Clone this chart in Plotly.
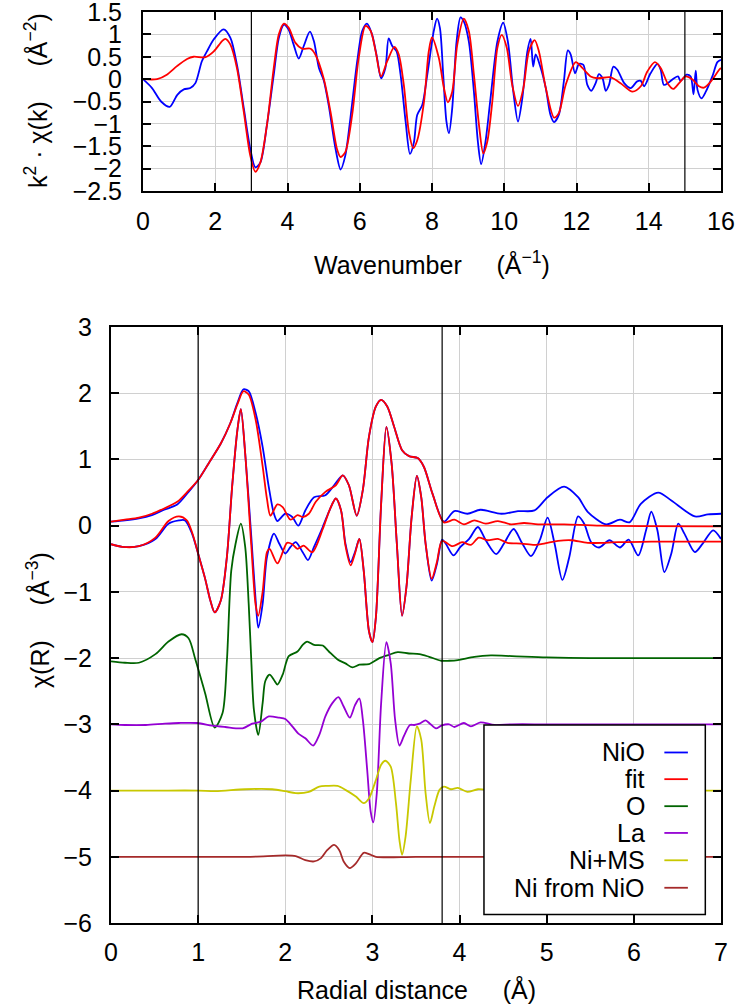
import plotly.graph_objects as go

# ---------------- top panel : k^2 * chi(k) ----------------
k_nio = [0, 0.25, 0.5, 0.74, 0.95, 1.13, 1.31, 1.45, 1.63, 1.77, 1.96, 2.23, 2.42, 2.6, 2.79, 2.97,
         3.11, 3.25, 3.43, 3.62, 3.76, 3.9, 4.03, 4.17, 4.31, 4.45, 4.62, 4.73, 4.87, 5.0, 5.14, 5.33,
         5.47, 5.6, 5.74, 5.93, 6.07, 6.2, 6.34, 6.48, 6.59, 6.71, 6.8, 6.9, 7.02, 7.13, 7.27, 7.39,
         7.5, 7.59, 7.73, 7.87, 8.05, 8.14, 8.22, 8.31, 8.4, 8.47, 8.56, 8.68, 8.79, 8.88, 9.02, 9.16,
         9.27, 9.36, 9.48, 9.62, 9.81, 9.97, 10.1, 10.25, 10.38, 10.5, 10.64, 10.73, 10.8, 10.87,
         11.01, 11.15, 11.28, 11.38, 11.51, 11.65, 11.76, 11.84, 11.96, 12.07, 12.19, 12.3, 12.41,
         12.53, 12.62, 12.72, 12.81, 12.9, 13.02, 13.13, 13.32, 13.5, 13.68, 13.78, 13.87, 14.05,
         14.24, 14.33, 14.42, 14.56, 14.7, 14.81, 14.88, 15.05, 15.16, 15.24, 15.3, 15.35, 15.46,
         15.58, 15.76, 15.9, 16.0]
chik_nio = [0, -0.2, -0.5, -0.62, -0.35, -0.23, -0.2, -0.09, 0.40, 0.62, 0.89, 1.11, 0.92, 0.32, -0.65,
            -1.56, -1.97, -1.86, -1.03, 0.1, 0.92, 1.22, 1.11, 0.77, 0.46, 0.74, 1.06, 0.85, 0.25, -0.02,
            -0.58, -1.56, -2.02, -1.71, -0.88, 0.4, 1.08, 1.24, 1.0, 0.47, 0.02, 0.25, 0.91, 0.74, 0.62,
            0.1, -0.95, -1.67, -1.41, -0.8, -0.58, 0.1, 1.08, 1.35, 1.14, 0.1, -0.95, -1.21, -0.65, 0.84,
            1.38, 1.29, 0.84, -0.28, -1.4, -1.9, -1.4, -0.43, 0.84, 1.26, 0.84, -0.28, -0.95, -0.43, 0.62,
            0.9, 0.28, 0.55, 0.25, -0.2, -0.8, -0.96, -0.8, -0.05, 0.64, 0.55, 0.13, 0.34, 0.32, -0.13,
            -0.26, -0.09, 0.11, 0.02, -0.26, -0.13, 0.28, 0.21, -0.09, -0.2, -0.05, -0.04, -0.16, 0.13,
            0.34, 0.21, -0.13, -0.07, 0.02, 0.06, -0.04, 0.1, 0.06, -0.34, 0.19, -0.24, -0.43, -0.28,
            0.06, 0.38, 0.43]
k_fit = [0, 0.39, 0.66, 0.94, 1.22, 1.4, 1.73, 1.96, 2.19, 2.28, 2.42, 2.6, 2.79, 2.97, 3.11, 3.25,
         3.43, 3.62, 3.76, 3.9, 4.03, 4.22, 4.4, 4.64, 4.77, 5.0, 5.19, 5.37, 5.47, 5.6, 5.79, 5.97,
         6.16, 6.3, 6.44, 6.59, 6.76, 6.96, 7.08, 7.22, 7.36, 7.48, 7.59, 7.78, 7.91, 8.0, 8.19, 8.33,
         8.44, 8.56, 8.7, 8.88, 9.02, 9.16, 9.3, 9.42, 9.53, 9.67, 9.81, 9.93, 10.07, 10.22, 10.38,
         10.53, 10.68, 10.84, 10.96, 11.15, 11.38, 11.51, 11.7, 11.98, 12.16, 12.39, 12.58, 12.95,
         13.22, 13.55, 13.78, 13.96, 14.17, 14.33, 14.52, 14.68, 14.84, 15.02, 15.21, 15.39, 15.53,
         15.72, 15.95, 16.0]
chik_fit = [0, 0, 0.1, 0.29, 0.45, 0.5, 0.49, 0.62, 0.85, 0.9, 0.77, 0.25, -0.73, -1.71, -2.07, -1.86,
            -1.03, 0.25, 1.0, 1.24, 1.15, 0.81, 0.68, 0.68, 0.55, 0.02, -0.73, -1.56, -1.74, -1.63, -0.8,
            0.47, 1.19, 1.08, 0.62, 0.06, 0.4, 0.72, 0.55, -0.13, -1.18, -1.54, -1.37, -0.5, 0.62, 0.93,
            0.47, -0.2, -0.52, -0.28, 0.77, 1.35, 1.07, 0.1, -1.02, -1.66, -1.4, -0.5, 0.7, 0.99, 0.7,
            -0.13, -0.6, -0.2, 0.62, 0.87, 0.62, -0.2, -0.86, -0.76, -0.13, 0.38, 0.25, 0.06, 0.02, 0.04,
            -0.09, -0.28, -0.16, 0.17, 0.38, 0.25, -0.09, -0.22, -0.09, 0.06, -0.01, -0.16, -0.19, -0.05,
            0.21, 0.25]
k_window = [3, 15]

# ---------------- bottom panel : chi(R) ----------------
r_nio_mag = [0, 0.16, 0.32, 0.47, 0.61, 0.76, 0.89, 1.0, 1.12, 1.26, 1.37, 1.45, 1.52, 1.58, 1.66, 1.74,
             1.81, 1.87, 1.91, 2.0, 2.08, 2.15, 2.23, 2.33, 2.46, 2.56, 2.66, 2.73, 2.82, 2.89, 2.96, 3.04,
             3.1, 3.17, 3.25, 3.34, 3.42, 3.52, 3.59, 3.69, 3.82, 3.94, 4.09, 4.24, 4.48, 4.67, 4.86, 5.01,
             5.2, 5.36, 5.47, 5.68, 5.84, 5.95, 6.08, 6.28, 6.43, 6.7, 6.85, 7.0]
chir_nio_mag = [0.06, 0.08, 0.11, 0.16, 0.24, 0.32, 0.51, 0.69, 0.94, 1.24, 1.55, 1.85, 2.06, 2.03, 1.7,
                1.19, 0.59, 0.18, 0.07, 0.18, 0.13, 0.0, 0.23, 0.43, 0.46, 0.61, 0.76, 0.61, 0.15, 0.54,
                1.34, 1.8, 1.9, 1.8, 1.49, 1.14, 1.05, 1.02, 0.89, 0.48, 0.06, 0.22, 0.18, 0.24, 0.18, 0.22,
                0.23, 0.43, 0.59, 0.43, 0.21, 0.02, 0.09, 0.05, 0.33, 0.5, 0.38, 0.14, 0.17, 0.18]
r_fit_mag = [0, 0.16, 0.32, 0.47, 0.61, 0.76, 0.89, 1.0, 1.12, 1.26, 1.37, 1.45, 1.52, 1.58, 1.66, 1.74,
             1.79, 1.83, 1.91, 1.97, 2.06, 2.14, 2.2, 2.27, 2.35, 2.46, 2.58, 2.66, 2.73, 2.82, 2.89, 2.96,
             3.04, 3.1, 3.17, 3.25, 3.34, 3.42, 3.52, 3.59, 3.69, 3.82, 3.94, 4.05, 4.17, 4.3, 4.44, 4.59,
             4.74, 4.9, 5.2, 5.62, 7.0]
chir_fit_mag = [0.06, 0.09, 0.12, 0.18, 0.26, 0.36, 0.53, 0.69, 0.94, 1.24, 1.55, 1.83, 2.03, 1.98, 1.6,
                0.9, 0.4, 0.15, 0.32, 0.28, 0.09, 0.16, 0.13, 0.18, 0.36, 0.51, 0.61, 0.76, 0.61, 0.15,
                0.54, 1.34, 1.8, 1.9, 1.8, 1.49, 1.14, 1.05, 1.02, 0.89, 0.48, 0.05, 0.09, 0.02, 0.08, 0.03,
                0.07, 0.02, 0.04, 0.02, 0.02, 0.0, -0.01]
r_nio_re = [0, 0.13, 0.32, 0.51, 0.66, 0.78, 0.85, 0.93, 1.01, 1.08, 1.14, 1.19, 1.26, 1.33, 1.39, 1.45,
            1.49, 1.54, 1.61, 1.66, 1.69, 1.74, 1.79, 1.87, 1.93, 2.0, 2.06, 2.12, 2.2, 2.26, 2.33, 2.43,
            2.51, 2.58, 2.64, 2.69, 2.75, 2.8, 2.85, 2.9, 2.96, 3.0, 3.04, 3.1, 3.16, 3.22, 3.28, 3.34,
            3.39, 3.45, 3.51, 3.56, 3.61, 3.68, 3.74, 3.8, 3.84, 3.93, 4.01, 4.11, 4.21, 4.3, 4.42, 4.51,
            4.62, 4.72, 4.82, 4.92, 5.01, 5.09, 5.18, 5.26, 5.36, 5.43, 5.51, 5.6, 5.72, 5.84, 5.94, 6.05,
            6.14, 6.2, 6.27, 6.35, 6.43, 6.51, 6.58, 6.7, 6.79, 6.91, 7.0]
chir_nio_re = [-0.28, -0.32, -0.31, -0.2, 0.03, 0.08, 0.08, -0.12, -0.47, -0.8, -1.13, -1.31, -1.13,
               -0.47, 0.59, 1.44, 1.76, 1.09, -0.17, -1.13, -1.54, -1.18, -0.47, -0.12, -0.27, -0.42,
               -0.32, -0.25, -0.4, -0.52, -0.32, -0.02, 0.24, 0.41, 0.23, -0.27, -0.55, -0.4, -0.2, -0.68,
               -1.59, -1.76, -1.38, 0.33, 1.49, 0.94, -0.27, -1.36, -0.93, 0.13, 0.75, 0.43, -0.27, -0.83,
               -0.58, -0.21, -0.27, -0.45, -0.32, -0.2, -0.02, -0.22, -0.43, -0.27, -0.05, -0.27, -0.46,
               -0.22, 0.12, -0.27, -0.82, -0.47, 0.14, 0.03, -0.25, -0.33, -0.22, -0.33, -0.21, -0.45,
               -0.07, 0.21, -0.07, -0.7, -0.42, 0.03, -0.12, -0.4, -0.27, -0.07, -0.2]
r_fit_re = [0, 0.13, 0.32, 0.51, 0.66, 0.78, 0.87, 0.93, 1.01, 1.08, 1.14, 1.19, 1.26, 1.33, 1.39, 1.45,
            1.49, 1.54, 1.61, 1.66, 1.69, 1.74, 1.79, 1.82, 1.91, 2.02, 2.08, 2.14, 2.21, 2.31, 2.43,
            2.51, 2.58, 2.64, 2.69, 2.75, 2.8, 2.85, 2.9, 2.96, 3.0, 3.04, 3.1, 3.16, 3.22, 3.28, 3.34,
            3.39, 3.45, 3.51, 3.56, 3.61, 3.68, 3.74, 3.8, 3.92, 4.03, 4.13, 4.22, 4.32, 4.44, 4.55, 4.71,
            4.86, 4.97, 5.13, 5.28, 5.47, 5.82, 6.2, 7.0]
chir_fit_re = [-0.28, -0.32, -0.31, -0.18, 0.07, 0.14, 0.08, -0.1, -0.47, -0.8, -1.13, -1.31, -1.13,
               -0.47, 0.59, 1.44, 1.76, 1.09, -0.3, -1.2, -1.36, -1.0, -0.4, -0.35, -0.57, -0.26, -0.28,
               -0.35, -0.3, -0.4, -0.05, 0.24, 0.41, 0.23, -0.3, -0.6, -0.42, -0.2, -0.68, -1.59, -1.76,
               -1.38, 0.33, 1.49, 0.94, -0.27, -1.36, -0.93, 0.13, 0.75, 0.43, -0.27, -0.8, -0.55, -0.23,
               -0.31, -0.25, -0.29, -0.18, -0.22, -0.2, -0.26, -0.27, -0.29, -0.27, -0.23, -0.22, -0.26,
               -0.25, -0.24, -0.24]
r_o = [0, 0.16, 0.32, 0.51, 0.66, 0.81, 0.89, 0.97, 1.08, 1.19, 1.28, 1.33, 1.38, 1.43, 1.49, 1.54, 1.58,
       1.61, 1.64, 1.69, 1.74, 1.77, 1.82, 1.87, 1.91, 1.97, 2.04, 2.14, 2.2, 2.25, 2.33, 2.43, 2.5, 2.6,
       2.69, 2.77, 2.85, 2.96, 3.08, 3.19, 3.29, 3.42, 3.54, 3.65, 3.79, 3.88, 3.98, 4.17, 4.36, 4.6, 5.0,
       5.5, 6.0, 6.5, 7.0]
chir_o = [-2.05, -2.07, -2.07, -1.94, -1.75, -1.64, -1.7, -2.03, -2.53, -3.05, -2.83, -2.04, -0.68, -0.27,
          0.03, -0.32, -1.18, -2.04, -2.78, -3.16, -2.68, -2.35, -2.25, -2.33, -2.4, -2.25, -1.97, -1.9,
          -1.8, -1.75, -1.8, -1.81, -1.9, -2.02, -2.08, -2.14, -2.1, -2.09, -2.0, -1.95, -1.91, -1.93, -1.94,
          -1.98, -2.04, -2.04, -2.03, -1.98, -1.96, -1.97, -1.99, -2.0, -2.0, -2.0, -2.0]
r_la = [0, 0.16, 0.4, 0.62, 0.78, 0.99, 1.16, 1.31, 1.51, 1.62, 1.72, 1.81, 1.93, 2.0, 2.08, 2.15, 2.23,
        2.32, 2.39, 2.46, 2.54, 2.61, 2.67, 2.74, 2.8, 2.85, 2.89, 2.94, 2.98, 3.01, 3.05, 3.1, 3.16, 3.21,
        3.26, 3.31, 3.36, 3.43, 3.48, 3.54, 3.61, 3.66, 3.73, 3.79, 3.88, 3.94, 4.05, 4.13, 4.24, 4.4, 4.6,
        5.0, 6.0, 6.8, 7.0]
chir_la = [-3.0, -3.01, -3.01, -2.99, -2.98, -2.98, -3.02, -3.04, -3.06, -2.99, -2.96, -2.88, -2.9, -2.92,
           -3.03, -3.14, -3.21, -3.32, -3.16, -2.88, -2.68, -2.59, -2.73, -2.9, -2.71, -2.61, -2.93, -3.69,
           -4.32, -4.48, -4.04, -2.68, -1.76, -2.08, -2.93, -3.32, -3.18, -3.01, -3.01, -2.99, -2.94, -2.99,
           -3.06, -3.02, -3.0, -3.04, -2.98, -3.03, -2.97, -3.01, -3.0, -3.0, -3.0, -3.0, -3.0]
r_nims = [0, 0.5, 1.0, 1.2, 1.54, 1.85, 2.0, 2.12, 2.27, 2.39, 2.48, 2.6, 2.69, 2.81, 2.9, 2.96, 3.04, 3.1,
          3.15, 3.21, 3.27, 3.31, 3.34, 3.38, 3.44, 3.51, 3.56, 3.61, 3.66, 3.71, 3.77, 3.82, 3.9, 3.98,
          4.09, 4.21, 4.4, 5.0, 6.0, 7.0]
chir_nims = [-4.0, -4.0, -4.0, -4.01, -3.98, -3.98, -4.01, -4.04, -4.02, -3.94, -3.93, -3.93, -3.99, -4.09,
             -4.19, -4.12, -3.84, -3.61, -3.55, -3.64, -4.19, -4.75, -4.97, -4.7, -3.84, -3.03, -3.23,
             -4.04, -4.49, -4.24, -3.99, -3.94, -3.98, -3.96, -4.02, -3.98, -4.0, -4.0, -4.0, -4.0]
r_ninio = [0, 1.0, 1.6, 2.0, 2.12, 2.23, 2.33, 2.41, 2.48, 2.56, 2.62, 2.67, 2.74, 2.81, 2.9, 2.96, 3.04,
           3.5, 4.5, 7.0]
chir_ninio = [-5.0, -5.0, -5.0, -4.98, -4.99, -5.05, -5.07, -5.02, -4.9, -4.82, -4.9, -5.07, -5.17, -5.1,
              -4.94, -4.96, -5.0, -5.0, -5.0, -5.0]
r_window = [1.0, 3.8]

series_names = ["NiO", "fit", "O", "La", "Ni+MS", "Ni from NiO"]
series_colors = ["#0000ff", "#ff0000", "#006400", "#9400d3", "#c8c800", "#a52a2a"]

k_ticks = [0, 2, 4, 6, 8, 10, 12, 14, 16]
chik_ticks = [-2.5, -2, -1.5, -1, -0.5, 0, 0.5, 1, 1.5]
r_ticks = [0, 1, 2, 3, 4, 5, 6, 7]
chir_ticks = [-6, -5, -4, -3, -2, -1, 0, 1, 2, 3]

# ---------------- figure ----------------
W, H = 741, 1007
FONT = "Liberation Sans, Arial, sans-serif"
FS = 25
SP = "\u00a0"


def px_x(p):
    return p / W


def px_y(p):
    return 1 - p / H


def fmt(v):
    s = ("%g" % v)
    return s.replace("-", "\u2212")


fig = go.Figure()


def add_line(x, y, color, xa, ya):
    fig.add_trace(go.Scatter(x=x, y=y, mode="lines", xaxis=xa, yaxis=ya, showlegend=False,
                             hoverinfo="skip",
                             line=dict(color=color, width=1.8, shape="spline", smoothing=0.8)))


add_line(k_nio, chik_nio, series_colors[0], "x", "y")
add_line(k_fit, chik_fit, series_colors[1], "x", "y")

add_line(r_nio_mag, chir_nio_mag, series_colors[0], "x2", "y2")
add_line(r_nio_re, chir_nio_re, series_colors[0], "x2", "y2")
add_line(r_fit_mag, chir_fit_mag, series_colors[1], "x2", "y2")
add_line(r_fit_re, chir_fit_re, series_colors[1], "x2", "y2")
add_line(r_o, chir_o, series_colors[2], "x2", "y2")
add_line(r_la, chir_la, series_colors[3], "x2", "y2")
add_line(r_nims, chir_nims, series_colors[4], "x2", "y2")
add_line(r_ninio, chir_ninio, series_colors[5], "x2", "y2")

axis_common = dict(ticks="inside", ticklen=8, tickwidth=1.5, tickcolor="black", mirror="allticks",
                   showline=True, linewidth=2, linecolor="black", showgrid=True, gridcolor="#d0d0d0",
                   gridwidth=1, zeroline=False, automargin=False, ticklabeloverflow="allow",
                   tickfont=dict(family=FONT, size=FS, color="black"))

fig.update_layout(
    width=W, height=H, margin=dict(l=0, r=0, t=0, b=0, autoexpand=False),
    paper_bgcolor="white", plot_bgcolor="white", showlegend=False,
    font=dict(family=FONT, size=FS, color="black"),
    xaxis=dict(domain=[px_x(143), px_x(721)], anchor="y", range=[0, 16], tickvals=k_ticks,
               ticktext=[fmt(v) for v in k_ticks], ticklabelstandoff=7, **axis_common),
    yaxis=dict(domain=[px_y(191), px_y(12)], anchor="x", range=[-2.5, 1.5], tickvals=chik_ticks,
               ticktext=[fmt(v) for v in chik_ticks], ticklabelstandoff=14, **axis_common),
    xaxis2=dict(domain=[px_x(111), px_x(721)], anchor="y2", range=[0, 7], tickvals=r_ticks,
                ticktext=[fmt(v) for v in r_ticks], ticklabelstandoff=6, **axis_common),
    yaxis2=dict(domain=[px_y(923), px_y(327)], anchor="x2", range=[-6, 3], tickvals=chir_ticks,
                ticktext=[fmt(v) for v in chir_ticks], ticklabelstandoff=12, **axis_common),
)

shapes = []
for kv in k_window:
    shapes.append(dict(type="line", xref="x", yref="y", x0=kv, x1=kv, y0=-2.5, y1=1.5,
                       line=dict(color="black", width=1.2), layer="above"))
for rv in r_window:
    shapes.append(dict(type="line", xref="x2", yref="y2", x0=rv, x1=rv, y0=-6, y1=3,
                       line=dict(color="black", width=1.2), layer="above"))

# legend box (text on the left, sample line on the right)
shapes.append(dict(type="rect", xref="x2", yref="y2", x0=4.28, x1=6.82, y0=-5.87, y1=-3.01,
                   fillcolor="white", line=dict(color="black", width=1.5), layer="above"))
annotations = []
leg_y = [-3.425, -3.828, -4.236, -4.640, -5.053, -5.468]
for name, col, yy in zip(series_names, series_colors, leg_y):
    annotations.append(dict(xref="x2", yref="y2", x=6.15, y=yy, text=name, showarrow=False,
                            xanchor="right", yanchor="middle", font=dict(family=FONT, size=FS)))
    shapes.append(dict(type="line", xref="x2", yref="y2", x0=6.35, x1=6.62, y0=yy, y1=yy,
                       line=dict(color=col, width=1.8), layer="above"))

annotations += [
    dict(xref="paper", yref="paper", x=px_x(432), y=px_y(263),
         text="Wavenumber" + SP * 5 + "(Å<sup>\u22121</sup>)", showarrow=False,
         xanchor="center", yanchor="middle", font=dict(family=FONT, size=FS)),
    dict(xref="paper", yref="paper", x=px_x(36), y=px_y(101),
         text="k<sup>2</sup> · χ(k)" + SP * 5 + "(Å<sup>\u22122</sup>)", showarrow=False,
         textangle=-90, xanchor="center", yanchor="middle", font=dict(family=FONT, size=FS)),
    dict(xref="paper", yref="paper", x=px_x(38), y=px_y(620),
         text="χ(R)" + SP * 5 + "(Å<sup>\u22123</sup>)", showarrow=False,
         textangle=-90, xanchor="center", yanchor="middle", font=dict(family=FONT, size=FS)),
    dict(xref="paper", yref="paper", x=px_x(416), y=px_y(989),
         text="Radial distance" + SP * 5 + "(Å)", showarrow=False,
         xanchor="center", yanchor="middle", font=dict(family=FONT, size=FS)),
]

fig.update_layout(shapes=shapes, annotations=annotations)
fig.write_html("out.html", config={"displayModeBar": False},
               post_script="document.body.style.margin = '0';")
